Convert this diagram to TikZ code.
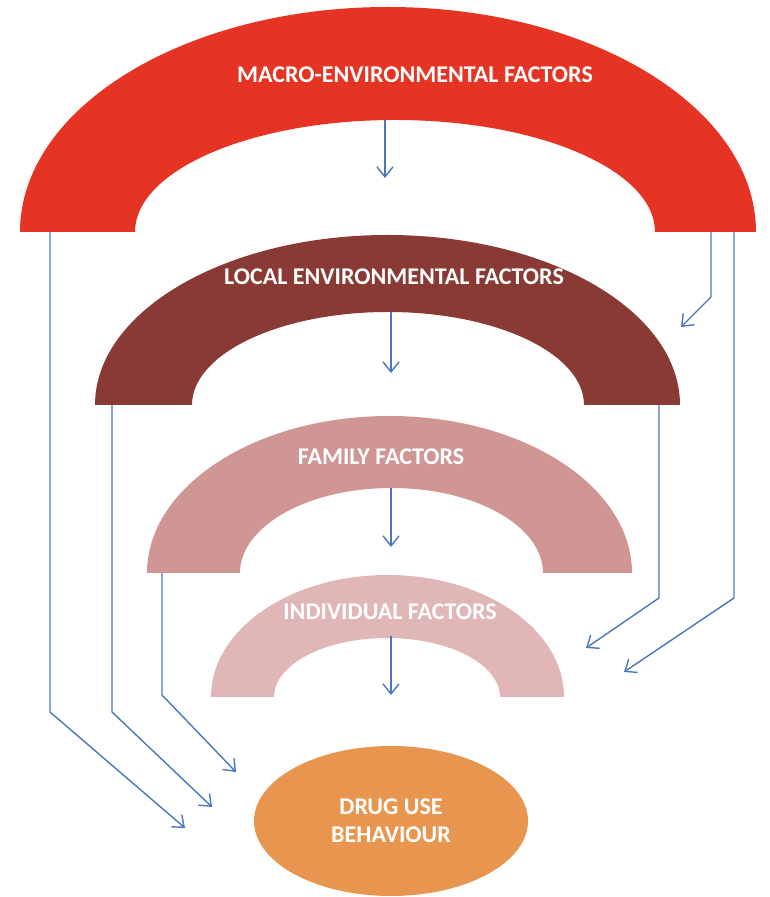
\documentclass[tikz,border=0pt]{standalone}
\usepackage{fontspec}
\setmainfont{Carlito}
\usetikzlibrary{arrows.meta,shapes.geometric}
\definecolor{macroc}{HTML}{E53424}
\definecolor{localc}{HTML}{8A3A35}
\definecolor{familyc}{HTML}{CF9693}
\definecolor{indivc}{HTML}{E0B7B6}
\definecolor{drugc}{HTML}{E8964F}
\definecolor{arrowc}{HTML}{4A76BC}
\begin{document}
\begin{tikzpicture}[x=1pt,y=1pt,
  conn/.style={draw=arrowc, line width=1.4pt, line join=round, -{Straight Barb[length=10pt,width=16pt,line width=1.4pt]}},
  lbl/.style={text=white, font=\bfseries\fontsize{24}{28}\selectfont, inner sep=0pt, align=center}]
\useasboundingbox (0,0) rectangle (770,897);

% arches
\fill[macroc] (20,665) arc[start angle=180,end angle=0,x radius=368,y radius=225]
  -- (655,665) arc[start angle=0,end angle=180,x radius=260,y radius=112] -- cycle;
\fill[localc] (95,492) arc[start angle=180,end angle=0,x radius=292.5,y radius=170]
  -- (584,492) arc[start angle=0,end angle=180,x radius=196,y radius=93] -- cycle;
\fill[familyc] (147,324) arc[start angle=180,end angle=0,x radius=242.5,y radius=157]
  -- (543,324) arc[start angle=0,end angle=180,x radius=151.5,y radius=85] -- cycle;
\fill[indivc] (211,200) arc[start angle=180,end angle=0,x radius=176.5,y radius=122]
  -- (500,200) arc[start angle=0,end angle=180,x radius=113,y radius=59] -- cycle;

% labels
\node[lbl] (macro) at (415,822) {MACRO-ENVIRONMENTAL FACTORS};
\node[lbl] (local) at (394,620) {LOCAL ENVIRONMENTAL FACTORS};
\node[lbl] (family) at (381,440) {FAMILY FACTORS};
\node[lbl] (indiv) at (390,285) {INDIVIDUAL FACTORS};
\node[ellipse, fill=drugc, minimum width=274, minimum height=150, lbl] (drug) at (391,76) {DRUG USE\\BEHAVIOUR};

% coordinates
\coordinate (mC) at (385,777); \coordinate (mCe) at (385,719);
\coordinate (lC) at (391,585); \coordinate (lCe) at (391,524);
\coordinate (fC) at (391,409); \coordinate (fCe) at (391,350);
\coordinate (iC) at (391,261); \coordinate (iCe) at (391,202);
\draw[conn] (mC) -- (mCe);
\draw[conn] (lC) -- (lCe);
\draw[conn] (fC) -- (fCe);
\draw[conn] (iC) -- (iCe);

% left connectors
\coordinate (mL) at (50,665); \coordinate (mLe) at (185,69);
\coordinate (lL) at (112,492); \coordinate (lLe) at (212,90);
\coordinate (fL) at (162,324); \coordinate (fLe) at (236,125);
\draw[conn] (mL) -- (50,185) -- (mLe);
\draw[conn] (lL) -- (112,185) -- (lLe);
\draw[conn] (fL) -- (162,202) -- (fLe);

% right connectors
\coordinate (mR1) at (711,665); \coordinate (mR1e) at (681,570);
\coordinate (mR2) at (734,665); \coordinate (mR2e) at (624,225);
\coordinate (lR) at (659,492); \coordinate (lRe) at (586,249);
\draw[conn] (mR1) -- (711,600) -- (mR1e);
\draw[conn] (mR2) -- (734,299) -- (mR2e);
\draw[conn] (lR) -- (659,299) -- (lRe);
\end{tikzpicture}
\end{document}
